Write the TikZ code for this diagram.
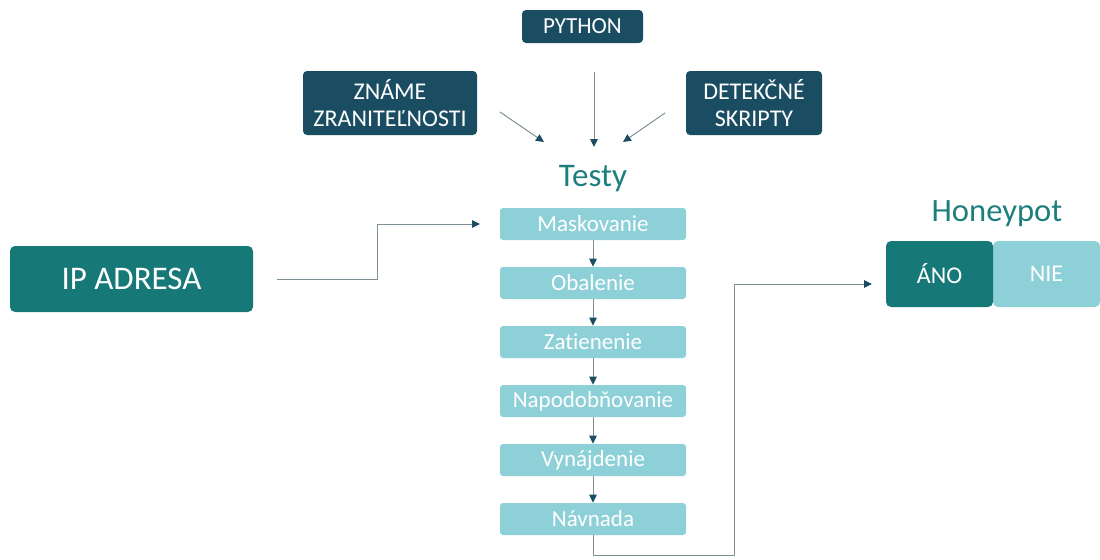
\documentclass[tikz,border=0pt]{standalone}
\usepackage{fontspec}
\setmainfont{Carlito}[Ligatures={NoCommon,NoContextual}]
\usetikzlibrary{arrows.meta}

\definecolor{navy}{HTML}{1B4D62}
\definecolor{tealdark}{HTML}{177878}
\definecolor{teallight}{HTML}{8ED0D8}
\definecolor{headline}{HTML}{1D7F7D}
\definecolor{wire}{HTML}{7E8F96}

\tikzset{
  srcbox/.style={fill=navy, text=white, rounded corners=2pt, inner sep=0pt, align=center},
  testbox/.style={fill=teallight, text=white, rounded corners=1.5pt, inner sep=0pt,
    minimum width=93pt, minimum height=16pt, font=\fontsize{11.5}{13}\selectfont},
  flow/.style={draw=wire, line width=0.5pt,
    -{Triangle[length=4pt,width=3.8pt,fill=navy,color=navy]}},
}

\begin{document}
\begin{tikzpicture}[x=0.5pt, y=-0.5pt]
\useasboundingbox (0,0) rectangle (1100,559);

% sources feeding the tests
\node[srcbox, minimum width=60.5pt, minimum height=16.5pt, font=\fontsize{11.5}{13}\selectfont]
  (python) at (582.5,26.5) {PYTHON};
\node[srcbox, minimum width=87pt, minimum height=32pt, font=\fontsize{12}{13.5}\selectfont]
  (vuln) at (390,103) {ZNÁME\\ZRANITEĽNOSTI};
\node[srcbox, minimum width=68pt, minimum height=32pt, font=\fontsize{12}{13.5}\selectfont]
  (scripts) at (754,103) {DETEKČNÉ\\SKRIPTY};

\node[text=headline, font=\fontsize{16.5}{19}\selectfont] (testy) at (593,179) {Testy};

\coordinate (pyA) at (594,72);
\coordinate (pyB) at (594,147);
\coordinate (vuA) at (500,112);
\coordinate (vuB) at (544,142);
\coordinate (skA) at (665,113);
\coordinate (skB) at (623,142);
\draw[flow] (pyA) -- (pyB);
\draw[flow] (vuA) -- (vuB);
\draw[flow] (skA) -- (skB);

% chain of tests
\node[testbox] (t1) at (593,224) {Maskovanie};
\node[testbox] (t2) at (593,283) {Obalenie};
\node[testbox] (t3) at (593,342) {Zatienenie};
\node[testbox] (t4) at (593,401) {Napodobňovanie};
\node[testbox] (t5) at (593,460) {Vynájdenie};
\node[testbox] (t6) at (593,519) {Návnada};

\foreach \a/\b in {t1/t2, t2/t3, t3/t4, t4/t5, t5/t6}
  \draw[flow] (\a.south) -- (\b.north);

% input
\node[fill=tealdark, text=white, rounded corners=2.5pt, minimum width=121.5pt,
  minimum height=33pt, inner sep=0pt, font=\fontsize{16.5}{19}\selectfont]
  (ip) at (131.5,279) {IP ADRESA};
\coordinate (ipA) at (277,279);
\coordinate (ipB) at (480,224);
\draw[flow] (ipA) -| (377,224) -- (ipB);

% result
\node[text=headline, font=\fontsize{16.3}{19}\selectfont] (honeypot) at (997,214) {Honeypot};
\node[fill=teallight, text=white, rounded corners=2.5pt, minimum width=53.5pt,
  minimum height=33pt, inner sep=0pt, font=\fontsize{12}{14}\selectfont]
  (nie) at (1046.5,274) {NIE};
\node[fill=tealdark, text=white, rounded corners=2.5pt, minimum width=53.5pt,
  minimum height=33pt, inner sep=0pt, font=\fontsize{12}{14}\selectfont]
  (ano) at (939.5,274) {ÁNO};
\coordinate (hpB) at (872,284);
\draw[flow] (t6.south) |- (734,555) |- (hpB);
\end{tikzpicture}
\end{document}
